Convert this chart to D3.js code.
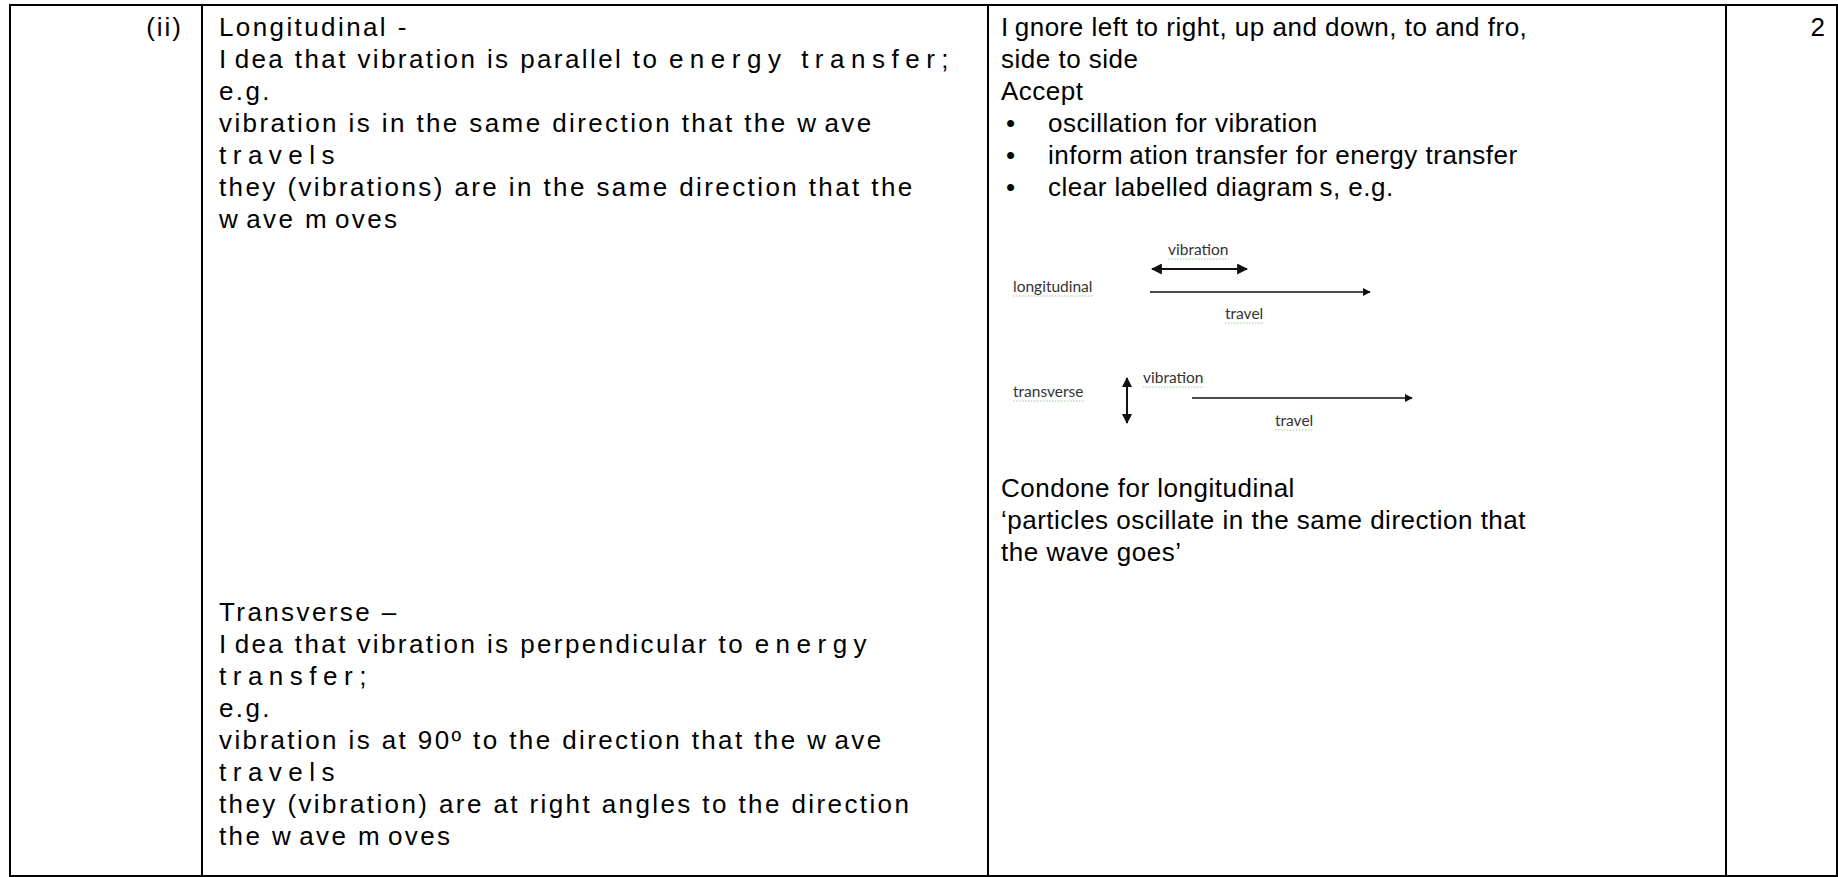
<!DOCTYPE html>
<html><head><meta charset="utf-8">
<script src="https://cdn.jsdelivr.net/npm/d3@7"></script>
<style>html,body{margin:0;padding:0;background:#fff;overflow:hidden}</style>
</head><body>
<svg id="chart" width="1838" height="877"></svg>
<script>
// ---- data ----
const partLabel = "(ii)";
const markValue = "2";
const longitudinalLines = [
  "Longitudinal -",
  "Idea that vibration is parallel to energy transfer;",
  "e.g.",
  "vibration is in the same direction that the wave",
  "travels",
  "they (vibrations) are in the same direction that the",
  "wave moves"
];
const transverseLines = [
  "Transverse \u2013",
  "Idea that vibration is perpendicular to energy",
  "transfer;",
  "e.g.",
  "vibration is at 90\u00ba to the direction that the wave",
  "travels",
  "they (vibration) are at right angles to the direction",
  "the wave moves"
];
const guidanceLines = ["Ignore left to right, up and down, to and fro,", "side to side", "Accept"];
const acceptBullets = ["oscillation for vibration", "information transfer for energy  transfer", "clear labelled diagrams, e.g."];
const condoneLines = ["Condone for longitudinal", "\u2018particles oscillate in the same direction that", "the wave goes\u2019"];
const diagramLabels = ["longitudinal", "vibration", "travel", "transverse", "vibration", "travel"];

(function () {
// ---- layout ----
const svg = d3.select("#chart");
const colEdges = [10, 202, 988, 1726, 1837];
const yTop = 5, yBottom = 876;
const lineH = 32;
const row = d3.scaleLinear().domain([0, 1]).range([36, 36 + lineH]);
// rendering quirks of the source document (extra tracking / broken words)
const tracked = new Set(["energy", "transfer;", "travels"]);
const splitsCol2 = {"Idea": ["I", "dea"], "wave": ["w", "ave"], "moves": ["m", "oves"]};
const splitsCol3 = {"Ignore": ["I", "gnore"], "diagrams,": ["diagram", "s,"], "information": ["inform", "ation"]};

// borders
const g = svg.append("g").attr("stroke", "#000").attr("stroke-width", 2);
g.selectAll("line.v").data(colEdges).join("line").attr("class", "v")
  .attr("x1", d => d).attr("x2", d => d).attr("y1", yTop - 1).attr("y2", yBottom + 1);
g.selectAll("line.h").data([yTop, yBottom]).join("line").attr("class", "h")
  .attr("x1", colEdges[0] - 1).attr("x2", colEdges[4] + 1).attr("y1", d => d).attr("y2", d => d);

const font = "'Liberation Sans', Arial, Helvetica, sans-serif";
function writeLine(sel, x, y, ln, ls, trackLs, splits) {
  const txt = sel.append("text").attr("x", x).attr("y", y).attr("letter-spacing", ls);
  const words = ln.split(" ");
  words.forEach((w, j) => {
    const tail = j < words.length - 1 ? " " : "";
    if (splits[w]) {
      txt.append("tspan").text(splits[w][0]);
      txt.append("tspan").attr("dx", 6).text(splits[w][1] + tail);
    } else {
      txt.append("tspan").attr("letter-spacing", tracked.has(w) ? trackLs : ls).text(w + tail);
    }
  });
}
function addLines(lines, x, yFirst, ls, trackLs, splits) {
  const t = svg.append("g").attr("font-family", font).attr("font-size", 26).attr("fill", "#000");
  lines.forEach((ln, i) => writeLine(t, x, yFirst + i * lineH, ln, ls, trackLs, splits));
}

// column 1 and 4
svg.append("text").attr("x", 183).attr("y", row(0)).attr("text-anchor", "end")
  .attr("font-family", font).attr("font-size", 26).attr("letter-spacing", 2).text(partLabel);
svg.append("text").attr("x", 1825).attr("y", row(0)).attr("text-anchor", "end")
  .attr("font-family", font).attr("font-size", 26).text(markValue);

// column 2
addLines(longitudinalLines, 219, row(0), 2.4, 6.5, splitsCol2);
addLines(transverseLines, 219, 845 - 7 * lineH, 2.4, 6.5, splitsCol2);

// column 3
addLines(guidanceLines, 1001, row(0), 0.5, 0.5, splitsCol3);
const b = svg.append("g").attr("font-family", font).attr("font-size", 26);
acceptBullets.forEach((s, i) => {
  b.append("text").attr("x", 1006).attr("y", row(3 + i)).text("\u2022");
  writeLine(b, 1048, row(3 + i), s, 0.5, 0.5, splitsCol3);
});
addLines(condoneLines, 1001, 497, 0.5, 0.5, {});

// diagram
const defs = svg.append("defs");
defs.append("marker").attr("id", "ah").attr("viewBox", "0 0 10 10").attr("refX", 9).attr("refY", 5)
  .attr("markerWidth", 5).attr("markerHeight", 5).attr("orient", "auto-start-reverse")
  .append("path").attr("d", "M0,0L10,5L0,10z").attr("fill", "#111");
const dg = svg.append("g");
const arrows = [
  {x1: 1152, y1: 269, x2: 1247, y2: 269, both: true, w: 2.2},
  {x1: 1150, y1: 292, x2: 1370, y2: 292, both: false, w: 1.6},
  {x1: 1127, y1: 378, x2: 1127, y2: 423, both: true, w: 2},
  {x1: 1192, y1: 398, x2: 1412, y2: 398, both: false, w: 1.6}
];
dg.selectAll("line").data(arrows).join("line")
  .attr("x1", d => d.x1).attr("y1", d => d.y1).attr("x2", d => d.x2).attr("y2", d => d.y2)
  .attr("stroke", "#111").attr("stroke-width", d => d.w)
  .attr("marker-end", "url(#ah)").attr("marker-start", d => d.both ? "url(#ah)" : null);
const labelPos = [[1013, 292], [1168, 255], [1225, 319], [1013, 397], [1143, 383], [1275, 426]];
diagramLabels.forEach((s, i) => {
  const t = dg.append("text").attr("x", labelPos[i][0]).attr("y", labelPos[i][1])
    .attr("font-family", "Lato, 'Open Sans', sans-serif").attr("font-size", 15.5).attr("fill", "#333").text(s);
  const w = t.node().getComputedTextLength();
  dg.append("line").attr("x1", labelPos[i][0]).attr("x2", labelPos[i][0] + w)
    .attr("y1", labelPos[i][1] + 4).attr("y2", labelPos[i][1] + 4)
    .attr("stroke", "#9bc49b").attr("stroke-width", 1.2).attr("stroke-dasharray", "1.5,1.5");
});
})();
</script>
</body></html>
